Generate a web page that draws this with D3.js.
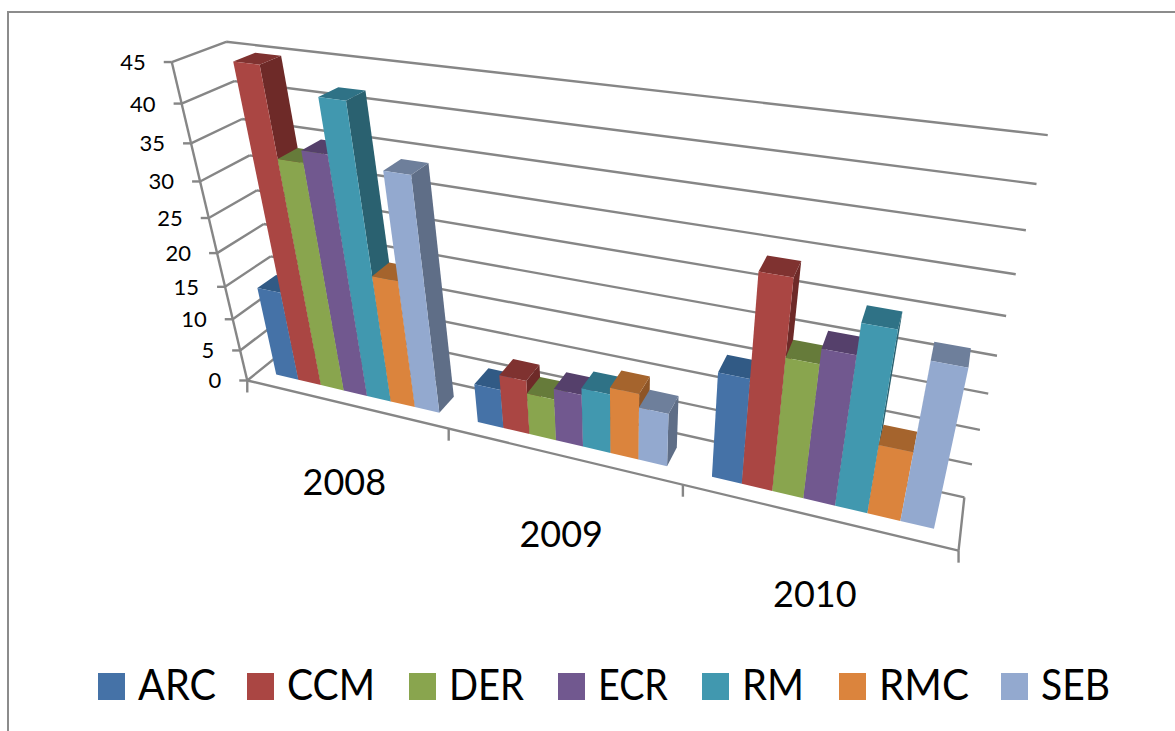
<!DOCTYPE html>
<html>
<head>
<meta charset="utf-8">
<style>
  html, body { margin: 0; padding: 0; background: #fff; }
  svg { display: block; }
  text { font-family: Lato, "Open Sans", sans-serif; fill: #000; }
</style>
<script src="https://cdn.jsdelivr.net/npm/d3@7"></script>
</head>
<body>
<svg id="chart" width="1175" height="731"></svg>
<script>
const years = ["2008", "2009", "2010"];
const seriesNames = ["ARC", "CCM", "DER", "ECR", "RM", "RMC", "SEB"];
const arc = [14, 6, 15.3];
const ccm = [45, 8.3, 29];
const der = [33.4, 6.4, 19];
const ecr = [35, 8, 21];
const rm = [42, 9, 25];
const rmc = [19.3, 10, 10];
const seb = [34, 8, 22];
const seriesValues = [arc, ccm, der, ecr, rm, rmc, seb];
const valueTicks = [0, 5, 10, 15, 20, 25, 30, 35, 40, 45];

const frontColors = ["#4572A7", "#AA4643", "#89A54E", "#71588F", "#4198AF", "#DB843D", "#93A9CF"];
const topColors = ["#315A85", "#7F3230", "#667B3A", "#55406B", "#2F7286", "#A5642D", "#6E7F9B"];
const sideColors = ["#2C4F75", "#6E2A28", "#566832", "#49365C", "#2A6170", "#8E5527", "#5F6E87"];
const legendStarts = [98, 247, 409, 558, 702, 839, 1001];
const legendTextWidths = [78, 88, 75, 70, 62, 90, 69];

// Known places of the plot box on screen: [x, depth, level, screenX, screenY].
const anchors = [
  [0, 0, 0, 248, 381], [0, 0, 1, 172, 62], [0, 1, 1, 226, 42],
  [1, 1, 1, 1047.7, 135], [1, 1, 0, 964, 497], [1, 0, 0, 958.3, 551],
  [1 / 3, 0, 0, 448.7, 428], [2 / 3, 0, 0, 683, 485],
  [0, 0, 10 / 45, 232, 319], [0, 0, 20 / 45, 216.7, 253],
  [0, 0, 30 / 45, 200, 182], [0, 0, 40 / 45, 182, 103],
  [1, 1, 40 / 45, 1036.3, 184], [1, 1, 30 / 45, 1016, 274.5],
  [1, 1, 20 / 45, 996.7, 355.6], [1, 1, 10 / 45, 980.7, 430]
];

// Least-squares fit of the 3x4 camera matrix with its last entry fixed at 1.
function solveCamera(points) {
  const n = 11;
  const ata = d3.range(n).map(() => new Array(n + 1).fill(0));
  const addRow = (row, rhs) => {
    for (let i = 0; i < n; i++) {
      for (let j = 0; j < n; j++) ata[i][j] += row[i] * row[j];
      ata[i][n] += row[i] * rhs;
    }
  };
  points.forEach(([x, y, z, u, v]) => {
    addRow([x, y, z, 1, 0, 0, 0, 0, -u * x, -u * y, -u * z], u);
    addRow([0, 0, 0, 0, x, y, z, 1, -v * x, -v * y, -v * z], v);
  });
  for (let c = 0; c < n; c++) {
    let pivot = c;
    for (let r = c + 1; r < n; r++) if (Math.abs(ata[r][c]) > Math.abs(ata[pivot][c])) pivot = r;
    [ata[c], ata[pivot]] = [ata[pivot], ata[c]];
    for (let r = 0; r < n; r++) {
      if (r === c) continue;
      const f = ata[r][c] / ata[c][c];
      for (let k = c; k <= n; k++) ata[r][k] -= f * ata[c][k];
    }
  }
  return ata.map((row, i) => row[n] / row[i]);
}

const cam = solveCamera(anchors);
function project(x, d, z) {
  const w = cam[8] * x + cam[9] * d + cam[10] * z + 1;
  return [
    (cam[0] * x + cam[1] * d + cam[2] * z + cam[3]) / w,
    (cam[4] * x + cam[5] * d + cam[6] * z + cam[7]) / w
  ];
}

const xBand = d3.scaleBand().domain(years).range([0, 1]);
const barBand = d3.scaleBand().domain(seriesNames)
  .range([xBand.bandwidth() * 0.09, xBand.bandwidth() * 0.91]);
const level = d3.scaleLinear().domain([0, 45]).range([0, 1]);
const depth = d3.scaleLinear().domain([0, 1]).range([0.28, 0.70]);

const svg = d3.select("#chart");
const segment = (a, b) => `M${a[0]},${a[1]}L${b[0]},${b[1]}`;
const ruleColor = "#868686";

// Outer frame of the chart area
svg.append("path")
  .attr("d", "M8,731V12H1175")
  .attr("fill", "none").attr("stroke", "#8c8c8c").attr("stroke-width", 2);

// Walls, floor and gridlines
const rules = svg.append("g").attr("fill", "none")
  .attr("stroke", ruleColor).attr("stroke-width", 2.4);
valueTicks.forEach(t => {
  const z = level(t);
  const corner = project(0, 1, z);
  rules.append("path").attr("d", segment(project(0, 0, z), corner) + segment(corner, project(1, 1, z)));
  const front = project(0, 0, z);
  rules.append("path").attr("d", `M${front[0] - 8},${front[1]}L${front[0]},${front[1]}`);
});
rules.append("path").attr("d", segment(project(0, 0, 0), project(0, 0, 1)));
rules.append("path").attr("d", segment(project(0, 0, 0), project(1, 0, 0)) + segment(project(1, 0, 0), project(1, 1, 0)));
[0, 1 / 3, 2 / 3, 1].forEach(x => {
  const p = project(x, 0, 0);
  rules.append("path").attr("d", `M${p[0]},${p[1]}V${p[1] + 12}`);
});

// Value axis labels
svg.append("g").selectAll("text").data(valueTicks).join("text")
  .attr("x", t => project(0, 0, level(t))[0] - 26)
  .attr("y", t => project(0, 0, level(t))[1])
  .attr("dy", "0.36em")
  .attr("text-anchor", "end")
  .attr("font-size", 22)
  .text(t => t);

// Category labels
svg.append("g").selectAll("text").data(years).join("text")
  .attr("x", y => project(xBand(y) + xBand.bandwidth() / 2, 0, 0)[0])
  .attr("y", y => project(xBand(y) + xBand.bandwidth() / 2, 0, 0)[1] + 91)
  .attr("text-anchor", "middle")
  .attr("font-size", 36)
  .text(y => y);

// Bars, painted left to right so nearer faces cover earlier ones
const poly = pts => pts.map(p => p.join(",")).join(" ");
const bars = svg.append("g");
years.forEach((year, yi) => {
  seriesNames.forEach((name, si) => {
    const x0 = xBand(year) + barBand(name);
    const x1 = x0 + barBand.bandwidth();
    const d0 = depth(0), d1 = depth(1);
    const z = level(seriesValues[si][yi]);
    const bar = bars.append("g");
    const left = [project(x0, d0, 0), project(x0, d1, 0), project(x0, d1, z), project(x0, d0, z)];
    const right = [project(x1, d0, 0), project(x1, d0, z), project(x1, d1, z), project(x1, d1, 0)];
    if (d3.polygonArea(left) < 0) bar.append("polygon").attr("points", poly(left)).attr("fill", sideColors[si]);
    if (d3.polygonArea(right) < 0) bar.append("polygon").attr("points", poly(right)).attr("fill", sideColors[si]);
    bar.append("polygon")
      .attr("points", poly([project(x0, d0, z), project(x1, d0, z), project(x1, d1, z), project(x0, d1, z)]))
      .attr("fill", topColors[si]);
    bar.append("polygon")
      .attr("points", poly([project(x0, d0, 0), project(x1, d0, 0), project(x1, d0, z), project(x0, d0, z)]))
      .attr("fill", frontColors[si]);
  });
});

// Legend along the bottom
const legend = svg.append("g");
seriesNames.forEach((name, i) => {
  legend.append("rect").attr("x", legendStarts[i]).attr("y", 673)
    .attr("width", 27).attr("height", 27).attr("fill", frontColors[i]);
  legend.append("text").attr("x", legendStarts[i] + 40).attr("y", 700)
    .attr("font-size", 42)
    .attr("textLength", legendTextWidths[i])
    .attr("lengthAdjust", "spacingAndGlyphs")
    .text(name);
});
</script>
</body>
</html>
